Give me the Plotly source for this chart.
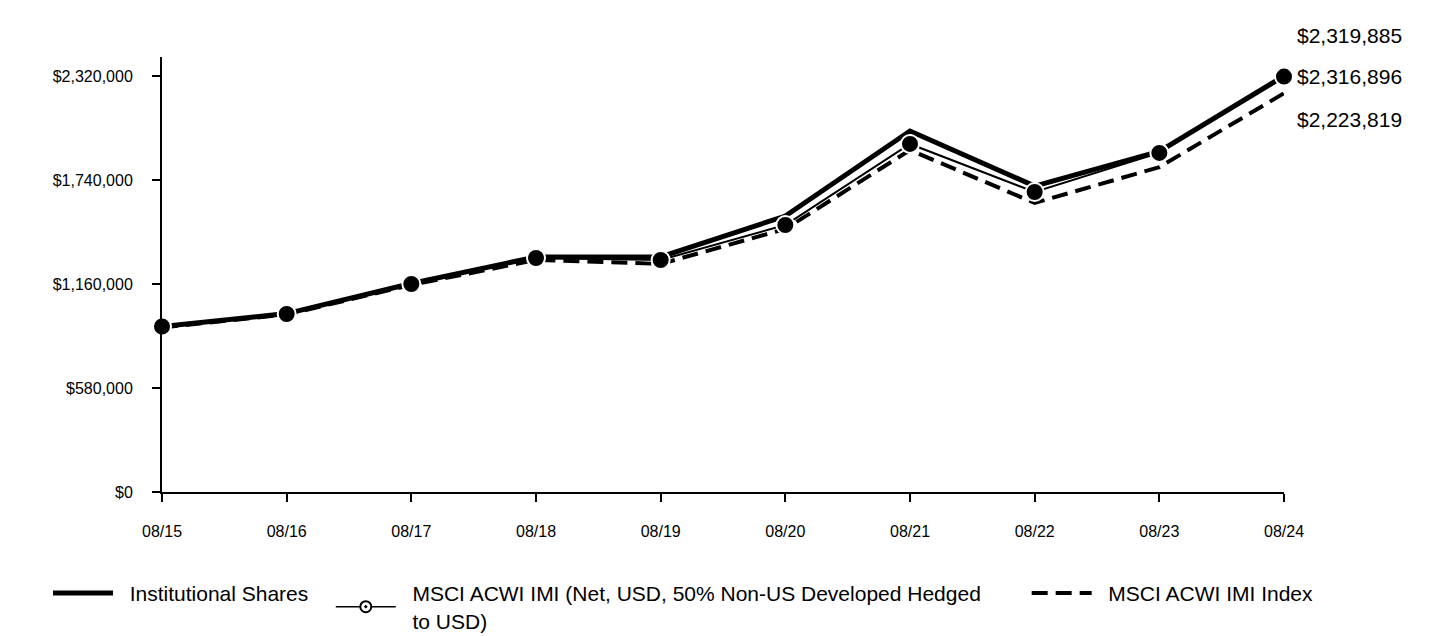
import plotly.graph_objects as go

dates = ["08/15", "08/16", "08/17", "08/18", "08/19", "08/20", "08/21", "08/22", "08/23", "08/24"]
institutional = [923000, 995000, 1163000, 1311000, 1311000, 1539000, 2013000, 1706000, 1900000, 2319885]
msci_hedged = [923000, 992700, 1160000, 1305000, 1294000, 1489000, 1941000, 1673000, 1891000, 2316896]
msci_imi = [918000, 990000, 1155000, 1294000, 1272000, 1467000, 1907000, 1612000, 1812000, 2223819]

NB = "\u00a0"
names = [NB * 2 + "Institutional Shares" + NB * 3,
         NB * 2 + "MSCI ACWI IMI (Net, USD, 50% Non-US Developed Hedged" + NB * 7 + "<br>" + NB * 2 + "to USD)",
         NB * 2 + "MSCI ACWI IMI Index"]
end_labels = ["$2,319,885", "$2,316,896", "$2,223,819"]
label_shift = [41, 0, -26]

ytick_vals = [0, 580000, 1160000, 1740000, 2320000]
ytick_text = ["$0", "$580,000", "$1,160,000", "$1,740,000", "$2,320,000"]

FONT = "Liberation Sans, Arial, sans-serif"

fig = go.Figure()
xs = list(range(len(dates)))

fig.add_trace(go.Scatter(x=xs, y=msci_imi, mode="lines", name=names[2],
                         line=dict(color="black", width=4, dash="16px,8px"),
                         legendrank=3, cliponaxis=False))
fig.add_trace(go.Scatter(x=xs, y=institutional, mode="lines", name=names[0],
                         line=dict(color="black", width=5),
                         legendrank=1, cliponaxis=False))
fig.add_trace(go.Scatter(x=xs, y=msci_hedged, mode="lines+markers", name=names[1],
                         line=dict(color="black", width=2),
                         marker=dict(color="black", size=18, line=dict(color="white", width=2)),
                         showlegend=False, cliponaxis=False))
# legend entry for the marker series (smaller symbol, as in the reference legend)
fig.add_trace(go.Scatter(x=[None], y=[None], mode="lines+markers", name=names[1],
                         line=dict(color="black", width=1.5),
                         marker=dict(symbol="circle-dot", color="white", size=11,
                                     line=dict(color="black", width=2)),
                         legendrank=2, hoverinfo="skip"))

series_end = [institutional[-1], msci_hedged[-1], msci_imi[-1]]
for v, t, s in zip(series_end, end_labels, label_shift):
    fig.add_annotation(x=xs[-1], y=v, text=t, showarrow=False, xanchor="left",
                       xshift=11, yshift=s, font=dict(size=21, color="black", family=FONT))

fig.update_layout(
    width=1440, height=636,
    margin=dict(l=154, r=164, t=49, b=152, autoexpand=False),
    plot_bgcolor="white", paper_bgcolor="white",
    font=dict(family=FONT, color="black"),
    showlegend=True,
    legend=dict(orientation="h", x=-0.1016, y=-0.186,
                xanchor="left", yanchor="top",
                font=dict(size=21, family=FONT), traceorder="normal",
                itemwidth=60, tracegroupgap=0),
)
fig.update_xaxes(range=[0, 9], tickvals=xs, ticktext=dates, showline=True, linecolor="black",
                 linewidth=2, ticks="outside", ticklen=8, tickwidth=2, tickcolor="black",
                 showgrid=False, zeroline=False, tickfont=dict(size=16, family=FONT),
                 ticklabelstandoff=16, automargin=False)
fig.update_yaxes(range=[0, 2426000], tickvals=ytick_vals, ticktext=ytick_text, showline=True,
                 linecolor="black", linewidth=2, ticks="outside", ticklen=8, tickwidth=2,
                 tickcolor="black", showgrid=False, zeroline=False,
                 tickfont=dict(size=16, family=FONT), ticklabelstandoff=16, automargin=False)

fig.write_html("out.html")
